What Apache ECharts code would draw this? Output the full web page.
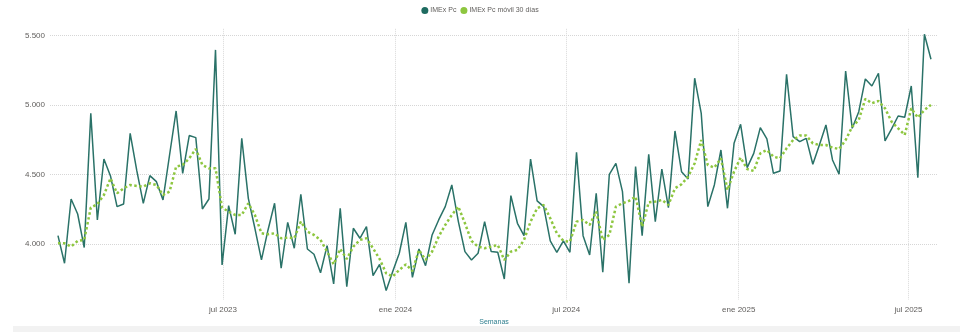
<!DOCTYPE html>
<html>
<head>
<meta charset="utf-8">
<script src="https://cdn.jsdelivr.net/npm/echarts@6/dist/echarts.min.js"></script>
<style>
html,body{margin:0;padding:0;background:#fff;}
#chart{width:960px;height:332px;}
</style>
</head>
<body>
<div id="chart"></div>
<script>
// Weekly observations start date and step (categories)
const startDate = '2023-01-06';
const weekCount = 134;

// IMEx Pc (weekly values)
const imexPc = [
  4060, 3861, 4324, 4216, 3974, 4941, 4173, 4612, 4490, 4269, 4288, 4797, 4530, 4293, 4492, 4449, 4317,
  4641, 4958, 4509, 4781, 4766, 4252, 4324, 5398, 3849, 4276, 4070, 4761, 4329, 4113, 3885, 4101, 4293,
  3825, 4156, 3969, 4358, 3964, 3926, 3793, 3988, 3712, 4257, 3693, 4113, 4041, 4125, 3772, 3853, 3664,
  3801, 3933, 4156, 3760, 3964, 3844, 4065, 4173, 4269, 4425, 4161, 3945, 3885, 3933, 4161, 3945,
  3940, 3748, 4348, 4149, 4060, 4612, 4310, 4269, 4022, 3940, 4022, 3940, 4660, 4060, 3921, 4365, 3796,
  4502, 4581, 4377, 3717, 4557, 4060, 4646, 4161, 4540, 4262, 4814, 4521, 4468, 5194, 4941, 4269,
  4425, 4677, 4257, 4725, 4862, 4550, 4653, 4838, 4757, 4509, 4526, 5222, 4773, 4737, 4761, 4574, 4713,
  4857, 4605, 4502, 5246, 4833, 4953, 5189, 5138, 5230, 4742, 4829, 4922, 4913, 5138, 4478, 5511, 5331
];

// IMEx Pc móvil 30 días
const imexMovil = [
  4005, 4005, 3981, 4022, 4029, 4262, 4286, 4353, 4473, 4365, 4401, 4425, 4418, 4413, 4437, 4425, 4353,
  4377, 4557, 4569, 4617, 4684, 4569, 4545, 4545, 4262, 4233, 4209, 4209, 4293, 4209, 4077, 4070, 4077,
  4041, 4046, 4041, 4161, 4089, 4065, 4029, 3945, 3853, 3964, 3892, 3981, 4029, 4041, 3969, 3892, 3789,
  3765, 3813, 3853, 3805, 3957, 3885, 3945, 4053, 4137, 4209, 4269, 4149, 4022, 3981, 3969, 3981,
  3993, 3885, 3945, 3957, 4029, 4161, 4257, 4281, 4185, 4077, 4022, 4017, 4161, 4173, 4137, 4233, 4029,
  4065, 4269, 4293, 4310, 4341, 4125, 4300, 4305, 4317, 4281, 4401, 4430, 4485, 4581, 4749, 4569,
  4550, 4617, 4389, 4521, 4622, 4540, 4526, 4653, 4677, 4629, 4617, 4689, 4749, 4781, 4781, 4725, 4713,
  4713, 4694, 4684, 4749, 4845, 4893, 5045, 5014, 5030, 4977, 4881, 4833, 4785, 4977, 4910, 4965, 5002
];

// Axis ticks
const xTickDates = ['2023-07-01', '2024-01-01', '2024-07-01', '2025-01-01', '2025-07-01'];
const xTickLabels = ['jul 2023', 'ene 2024', 'jul 2024', 'ene 2025', 'jul 2025'];
const yTickValues = [4000, 4500, 5000, 5500];

function parseLocal(s) {
  const p = s.split('-').map(Number);
  return new Date(p[0], p[1] - 1, p[2]).getTime();
}
const t0 = parseLocal(startDate);
const dates = [];
for (let i = 0; i < weekCount; i++) {
  const d = new Date(t0);
  d.setDate(d.getDate() + 7 * i);
  dates.push(d.getTime());
}
const xTickTs = xTickDates.map(parseLocal);

function fmtThousands(v) {
  return String(Math.round(v)).replace(/\B(?=(\d{3})+(?!\d))/g, '.');
}

const chart = echarts.init(document.getElementById('chart'), null, {renderer: 'canvas'});
chart.setOption({
  animation: false,
  backgroundColor: '#ffffff',
  legend: {
    top: 2,
    left: 'center',
    icon: 'circle',
    itemWidth: 7,
    itemHeight: 7,
    itemGap: 4,
    textStyle: {fontFamily: 'Liberation Sans', fontSize: 7, color: '#605e5c', padding: [0, 0, 0, -3]},
    data: ['IMEx Pc', 'IMEx Pc móvil 30 días']
  },
  grid: {left: 50, right: 22, top: 28.8, bottom: 32.5, containLabel: false},
  xAxis: {
    type: 'value',
    min: new Date(2022, 11, 28, 12).getTime(),
    max: new Date(2025, 7, 1, 12).getTime(),
    name: 'Semanas',
    nameLocation: 'middle',
    nameGap: 16,
    nameTextStyle: {fontFamily: 'Liberation Sans', fontSize: 7, color: '#2f7f8f'},
    axisLine: {show: false},
    axisTick: {show: false, customValues: xTickTs},
    axisLabel: {
      customValues: xTickTs,
      fontFamily: 'Liberation Sans', fontSize: 8, color: '#605e5c', margin: 6,
      formatter: function (v) {
        const i = xTickTs.indexOf(v);
        return i >= 0 ? xTickLabels[i] : '';
      }
    },
    splitLine: {show: true, lineStyle: {color: '#d9d9d9', type: 'dotted', width: 1}}
  },
  yAxis: {
    type: 'value',
    min: 3600,
    max: 5550,
    axisLine: {show: false},
    axisTick: {show: false, customValues: yTickValues},
    axisLabel: {
      customValues: yTickValues,
      fontFamily: 'Liberation Sans', fontSize: 8, color: '#605e5c', margin: 5,
      formatter: function (v) { return fmtThousands(v); }
    },
    splitLine: {show: true, lineStyle: {color: '#d6d6d6', type: 'dotted', width: 1}}
  },
  series: [
    {
      name: 'IMEx Pc',
      type: 'line',
      symbol: 'none',
      color: '#1e6b60',
      lineStyle: {color: '#2a7268', width: 1.5},
      data: dates.map((d, i) => [d, imexPc[i]]),
      z: 2
    },
    {
      name: 'IMEx Pc móvil 30 días',
      type: 'line',
      symbol: 'none',
      color: '#8dc63f',
      lineStyle: {color: '#8dc63f', width: 2.5, type: 'dotted'},
      data: dates.map((d, i) => [d, imexMovil[i]]),
      z: 3
    }
  ],
  graphic: [
    {type: 'rect', left: 13, top: 326, shape: {width: 947, height: 6}, style: {fill: '#f2f2f2'}, silent: true}
  ]
});
</script>
</body>
</html>
